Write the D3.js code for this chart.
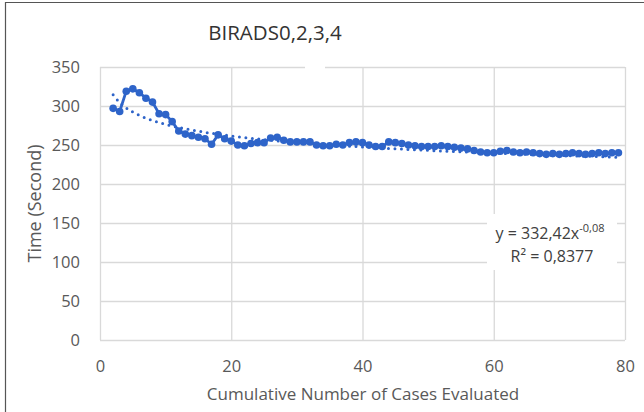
<!DOCTYPE html>
<html>
<head>
<meta charset="utf-8">
<script src="https://cdn.jsdelivr.net/npm/d3@7"></script>
<style>
  body { margin: 0; background: #fff; }
  text { font-family: "Open Sans", sans-serif; }
</style>
</head>
<body>
<script>
// cumulative mean time per case
const cases = d3.range(2, 80)
const times = [297, 293, 319, 322, 317, 310, 305, 290, 289, 280,
  268, 264, 262, 260, 258, 251, 263, 258, 255, 250,
  249, 252, 253, 253, 259, 260, 256, 254, 254, 254,
  254, 250, 249, 249, 251, 250, 253, 254, 253, 250,
  248, 248, 254, 253, 252, 250, 249, 248, 248, 248,
  249, 248, 247, 246, 245, 243, 241, 240, 240, 242,
  243, 241, 240, 241, 240, 239, 238, 239, 238, 239,
  240, 239, 238, 239, 240, 239, 240, 240]
const xTicks = [0, 20, 40, 60, 80]
const yTicks = [0, 50, 100, 150, 200, 250, 300, 350]
// power trendline coefficients shown in the label
const trendA = 332.42
const trendB = -0.08

const width = 644, height = 412
const margin = { top: 67, right: 19, bottom: 72, left: 100 }

const svg = d3.select("body").append("svg")
    .attr("width", width)
    .attr("height", height)

const x = d3.scaleLinear().domain([0, 80]).range([margin.left, width - margin.right])
const y = d3.scaleLinear().domain([0, 350]).range([height - margin.bottom, margin.top])

// frame (only left/top visible in the crop)
svg.append("path")
    .attr("d", `M5.5,${height} V2.5 H${width}`)
    .attr("fill", "none")
    .attr("stroke", "#555")
    .attr("stroke-width", 1.2)

const gridColor = "#d9d9d9"
const tickColor = "#595959"

svg.append("g")
    .attr("transform", `translate(${margin.left},0)`)
    .call(d3.axisLeft(y).tickValues(yTicks).tickSize(-(width - margin.left - margin.right)).tickPadding(20))
    .call(g => g.select(".domain").remove())
    .call(g => g.selectAll(".tick line").attr("stroke", gridColor).attr("stroke-width", 1.3))
    .call(g => g.selectAll(".tick text").attr("fill", tickColor).style("font-size", "16.5px"))

svg.append("g")
    .attr("transform", `translate(0,${height - margin.bottom})`)
    .call(d3.axisBottom(x).tickValues(xTicks).tickSize(-(height - margin.top - margin.bottom)).tickPadding(20))
    .call(g => g.select(".domain").remove())
    .call(g => g.selectAll(".tick line").attr("stroke", gridColor).attr("stroke-width", 1.3))
    .call(g => g.selectAll(".tick text").attr("fill", tickColor).style("font-size", "16.5px"))

// small gap in the top gridline under the title area
svg.append("rect")
    .attr("x", 305).attr("y", y(350) - 3)
    .attr("width", 20).attr("height", 6)
    .attr("fill", "#fff")

const data = cases.map((c, i) => ({ c, t: times[i] }))
const blue = "#2e64c9"

// trendline
const trend = cases.map(c => ({ c, t: trendA * Math.pow(c, trendB) }))
svg.append("path")
    .datum(trend)
    .attr("fill", "none")
    .attr("stroke", blue)
    .attr("stroke-width", 3)
    .attr("stroke-linecap", "round")
    .attr("stroke-dasharray", "0,6.5")
    .attr("d", d3.line().x(d => x(d.c)).y(d => y(d.t)).curve(d3.curveMonotoneX))

svg.append("path")
    .datum(data)
    .attr("fill", "none")
    .attr("stroke", blue)
    .attr("stroke-width", 2.8)
    .attr("d", d3.line().x(d => x(d.c)).y(d => y(d.t)))

svg.append("g")
    .selectAll("circle")
    .data(data)
    .join("circle")
    .attr("cx", d => x(d.c))
    .attr("cy", d => y(d.t))
    .attr("r", 3.8)
    .attr("fill", blue)

// equation label
svg.append("rect")
    .attr("x", 487).attr("y", 214)
    .attr("width", 130).attr("height", 56)
    .attr("fill", "#fff")

const eq = svg.append("text")
    .attr("x", 550).attr("y", 239)
    .attr("text-anchor", "middle")
    .attr("fill", "#404040")
    .style("font-size", "16px")
eq.append("tspan").text("y = 332,42x")
eq.append("tspan").attr("dy", -7).style("font-size", "11px").text("-0,08")

svg.append("text")
    .attr("x", 552).attr("y", 262)
    .attr("text-anchor", "middle")
    .attr("fill", "#404040")
    .style("font-size", "16px")
    .text("R² = 0,8377")

svg.append("text")
    .attr("x", 275).attr("y", 40)
    .attr("text-anchor", "middle")
    .attr("fill", "#333")
    .style("font-size", "20.5px")
    .text("BIRADS0,2,3,4")

svg.append("text")
    .attr("x", 363)
    .attr("y", 400)
    .attr("text-anchor", "middle")
    .attr("fill", tickColor)
    .style("font-size", "17px")
    .text("Cumulative Number of Cases Evaluated")

svg.append("text")
    .attr("transform", `translate(41,${(margin.top + height - margin.bottom) / 2}) rotate(-90)`)
    .attr("text-anchor", "middle")
    .attr("fill", tickColor)
    .style("font-size", "18px")
    .text("Time (Second)")
</script>
</body>
</html>
